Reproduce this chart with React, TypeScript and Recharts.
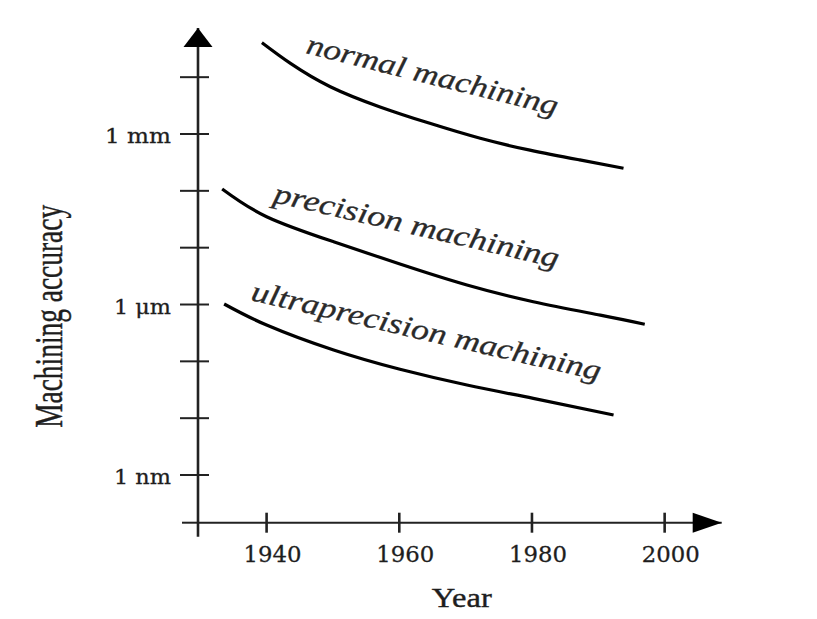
import React from 'react';
import { LineChart, Line, XAxis, YAxis, ReferenceLine, ReferenceDot } from 'recharts';

// ---- data (accuracy in millimetres, log scale) ----
const seriesNames = ['normal machining', 'precision machining', 'ultraprecision machining'];

const normalYears = [1939.3, 1943.6, 1949.6, 1957.1, 1964.6, 1972.2, 1979.7, 1987.2, 1993.8];
const normalAccuracyMm = [40.5, 17.5, 6.8, 3.0, 1.54, 0.84, 0.52, 0.35, 0.25];

const precisionYears = [1933.3, 1940.0, 1950.1, 1960.1, 1970.2, 1980.2, 1990.3, 1997.0];
const precisionAccuracyMm = [0.108, 0.0351, 0.0127, 0.00515, 0.0022, 0.00112, 0.00065, 0.00045];

const ultraYears = [1933.6, 1940.0, 1950.1, 1960.1, 1970.2, 1980.2, 1992.3];
const ultraAccuracyMm = [0.00102, 0.000435, 0.000158, 0.0000724, 0.0000383, 0.0000223, 0.0000114];

const yearTicks = [1940, 1960, 1980, 2000];
const accuracyTicks = [1e-6, 1e-5, 1e-4, 1e-3, 1e-2, 1e-1, 1, 10];
const accuracyTickLabels = ['1 nm', '', '', '1 μm', '', '', '1 mm', ''];

// label anchors (data space): year, accuracy (mm)
const labelYears = [1945.8, 1940.85, 1937.5];
const labelAccuracyMm = [26.6, 0.0636, 0.0012];
const labelAngles = [14, 13, 13];

const X_DOMAIN: [number, number] = [1929.66, 2008.6];
const Y_DOMAIN: [number, number] = [1.449e-7, 73.3];
const X_AXIS_LEFT_EXT = 1927.25;
const Y_AXIS_BOTTOM_EXT = 8.2e-8;

const toData = (years: number[], vals: number[]) => years.map((year, i) => ({ year, acc: vals[i] }));
const normalData = toData(normalYears, normalAccuracyMm);
const precisionData = toData(precisionYears, precisionAccuracyMm);
const ultraData = toData(ultraYears, ultraAccuracyMm);

const INK = '#222';
const TEXT = '#1e1e1e';
const SERIF = "'Liberation Serif', 'Times New Roman', serif";
const WIDE_SERIF = "'DejaVu Serif', 'Liberation Serif', serif";

const labelWidths: Record<string, number> = { '1 mm': 66, '1 μm': 57, '1 nm': 57 };
const curveLabelLengths = [258, 292, 358];

function YTick(props: any) {
  const { x, y, payload } = props;
  const idx = accuracyTicks.findIndex((t) => Math.abs(Math.log10(t) - Math.log10(payload.value)) < 1e-6);
  const label = idx >= 0 ? accuracyTickLabels[idx] : '';
  return (
    <g>
      <line x1={x - 18} x2={x + 11} y1={y} y2={y} stroke={INK} strokeWidth={2} />
      {label ? (
        <text
          x={x - 27}
          y={y + 9}
          textAnchor="end"
          fontFamily={WIDE_SERIF}
          fontSize={20}
          fill={TEXT}
          stroke={TEXT}
          strokeWidth={0.3}
          textLength={labelWidths[label]}
          lengthAdjust="spacingAndGlyphs"
        >
          {label}
        </text>
      ) : null}
    </g>
  );
}

function XTick(props: any) {
  const { x, y, payload } = props;
  return (
    <g>
      <line x1={x} x2={x} y1={y - 10} y2={y + 10} stroke={INK} strokeWidth={2.6} />
      <text
        x={x + 6}
        y={y + 39}
        textAnchor="middle"
        fontFamily={WIDE_SERIF}
        fontSize={23}
        fill={TEXT}
        stroke={TEXT}
        strokeWidth={0.3}
        textLength={58}
        lengthAdjust="spacingAndGlyphs"
      >
        {payload.value}
      </text>
    </g>
  );
}

function YLabel(props: any) {
  const vb = props.viewBox || { x: 0, y: 20, width: 190, height: 494.7 };
  const cx = vb.x + 54;
  const cy = vb.y + vb.height / 2 + 41;
  return (
    <text
      transform={`translate(${cx}, ${cy}) scale(1.45, 1) rotate(-90)`}
      x={0}
      y={0}
      textAnchor="middle"
      fontFamily={SERIF}
      fontSize={27}
      fill={TEXT}
      stroke={TEXT}
      strokeWidth={0.3}
      textLength={223}
      lengthAdjust="spacingAndGlyphs"
    >
      Machining accuracy
    </text>
  );
}

function XLabel(props: any) {
  const vb = props.viewBox || { x: 189.7, y: 514.7, width: 523.7, height: 96.3 };
  return (
    <text
      x={vb.x + vb.width / 2 + 2}
      y={vb.y + 84.3}
      textAnchor="middle"
      fontFamily={SERIF}
      fontSize={28}
      fill={TEXT}
      stroke={TEXT}
      strokeWidth={0.4}
      textLength={60}
      lengthAdjust="spacingAndGlyphs"
    >
      Year
    </text>
  );
}

const upArrow = (p: any) => (
  <polygon points={`${p.cx},${p.cy} ${p.cx - 14.5},${p.cy + 19} ${p.cx + 14.5},${p.cy + 19}`} fill="#000" />
);
const rightArrow = (p: any) => (
  <polygon points={`${p.cx},${p.cy} ${p.cx - 29},${p.cy - 10} ${p.cx - 29},${p.cy + 10}`} fill="#000" />
);

const curveLabel = (i: number) => (p: any) => (
  <text
    x={p.cx}
    y={p.cy}
    transform={`rotate(${labelAngles[i]} ${p.cx} ${p.cy})`}
    fontFamily={SERIF}
    fontStyle="italic"
    fontSize={29}
    fill="#2a2a2a"
    stroke="#2a2a2a"
    strokeWidth={0.3}
    textLength={curveLabelLengths[i]}
    lengthAdjust="spacingAndGlyphs"
  >
    {seriesNames[i]}
  </text>
);

export default function App() {
  return (
    <div style={{ background: '#fff', width: 809, height: 611 }}>
      <LineChart width={809} height={611} margin={{ top: 20, right: 95.3, bottom: 0, left: 0 }}>
        <XAxis
          type="number"
          dataKey="year"
          domain={X_DOMAIN}
          allowDataOverflow
          ticks={yearTicks}
          interval={0}
          tickLine={false}
          tickSize={0}
          tickMargin={0}
          tick={<XTick />}
          height={96.3}
          axisLine={{ stroke: INK, strokeWidth: 2 }}
          label={(p: any) => <XLabel {...p} />}
        />
        <YAxis
          type="number"
          scale="log"
          dataKey="acc"
          domain={Y_DOMAIN}
          allowDataOverflow
          ticks={accuracyTicks}
          interval={0}
          tickLine={false}
          tickSize={0}
          tickMargin={0}
          tick={<YTick />}
          width={190}
          axisLine={{ stroke: INK, strokeWidth: 2.6 }}
          label={(p: any) => <YLabel {...p} />}
        />
        <ReferenceLine
          segment={[{ x: X_AXIS_LEFT_EXT, y: Y_DOMAIN[0] }, { x: X_DOMAIN[0], y: Y_DOMAIN[0] }]}
          stroke={INK}
          strokeWidth={2}
          ifOverflow="visible"
        />
        <ReferenceLine
          segment={[{ x: X_DOMAIN[0], y: Y_AXIS_BOTTOM_EXT }, { x: X_DOMAIN[0], y: Y_DOMAIN[0] }]}
          stroke={INK}
          strokeWidth={2.6}
          ifOverflow="visible"
        />
        <Line data={normalData} dataKey="acc" type="natural" stroke="#000" strokeWidth={3.2} dot={false} activeDot={false} isAnimationActive={false} />
        <Line data={precisionData} dataKey="acc" type="natural" stroke="#000" strokeWidth={3.2} dot={false} activeDot={false} isAnimationActive={false} />
        <Line data={ultraData} dataKey="acc" type="natural" stroke="#000" strokeWidth={3.2} dot={false} activeDot={false} isAnimationActive={false} />
        <ReferenceDot x={X_DOMAIN[0]} y={Y_DOMAIN[1]} ifOverflow="visible" shape={upArrow} />
        <ReferenceDot x={X_DOMAIN[1]} y={Y_DOMAIN[0]} ifOverflow="visible" shape={rightArrow} />
        {seriesNames.map((name, i) => (
          <ReferenceDot key={name} x={labelYears[i]} y={labelAccuracyMm[i]} ifOverflow="visible" shape={curveLabel(i)} />
        ))}
      </LineChart>
    </div>
  );
}
